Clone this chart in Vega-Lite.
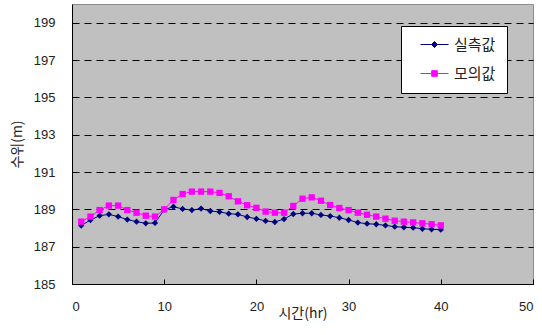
{
  "$schema": "https://vega.github.io/schema/vega-lite/v6.json",
  "width": 461,
  "height": 280,
  "autosize": {"type": "none"},
  "padding": {"left": 72, "top": 4, "right": 9, "bottom": 51},
  "background": "white",
  "config": {
    "view": {"fill": "#C0C0C0", "stroke": "#8c8c8c", "strokeWidth": 1},
    "font": "Liberation Sans",
    "axis": {
      "domainColor": "black",
      "tickColor": "black",
      "labelColor": "#222222",
      "titleColor": "#222222",
      "labelFont": "Liberation Sans",
      "labelFontSize": 13,
      "titleFont": "Noto Sans CJK KR",
      "titleFontSize": 14,
      "titleFontWeight": "normal"
    },
    "legend": {
      "orient": "none",
      "legendX": 329,
      "legendY": 22,
      "fillColor": "white",
      "strokeColor": "black",
      "padding": 11,
      "labelFont": "Noto Sans CJK KR",
      "labelFontSize": 15,
      "labelColor": "#222222",
      "symbolSize": 196,
      "symbolOffset": 15,
      "rowPadding": 13,
      "labelOffset": 12
    }
  },
  "data": {
    "values": [
      {"t": 1, "series": "실측값", "level": 188.13},
      {"t": 2, "series": "실측값", "level": 188.43},
      {"t": 3, "series": "실측값", "level": 188.66},
      {"t": 4, "series": "실측값", "level": 188.73},
      {"t": 5, "series": "실측값", "level": 188.61},
      {"t": 6, "series": "실측값", "level": 188.45},
      {"t": 7, "series": "실측값", "level": 188.34},
      {"t": 8, "series": "실측값", "level": 188.25},
      {"t": 9, "series": "실측값", "level": 188.27},
      {"t": 10, "series": "실측값", "level": 188.98},
      {"t": 11, "series": "실측값", "level": 189.14},
      {"t": 12, "series": "실측값", "level": 189.02},
      {"t": 13, "series": "실측값", "level": 188.96},
      {"t": 14, "series": "실측값", "level": 189.04},
      {"t": 15, "series": "실측값", "level": 188.91},
      {"t": 16, "series": "실측값", "level": 188.86},
      {"t": 17, "series": "실측값", "level": 188.77},
      {"t": 18, "series": "실측값", "level": 188.73},
      {"t": 19, "series": "실측값", "level": 188.59},
      {"t": 20, "series": "실측값", "level": 188.49},
      {"t": 21, "series": "실측값", "level": 188.38},
      {"t": 22, "series": "실측값", "level": 188.32},
      {"t": 23, "series": "실측값", "level": 188.48},
      {"t": 24, "series": "실측값", "level": 188.75},
      {"t": 25, "series": "실측값", "level": 188.79},
      {"t": 26, "series": "실측값", "level": 188.79},
      {"t": 27, "series": "실측값", "level": 188.70},
      {"t": 28, "series": "실측값", "level": 188.64},
      {"t": 29, "series": "실측값", "level": 188.55},
      {"t": 30, "series": "실측값", "level": 188.43},
      {"t": 31, "series": "실측값", "level": 188.29},
      {"t": 32, "series": "실측값", "level": 188.23},
      {"t": 33, "series": "실측값", "level": 188.20},
      {"t": 34, "series": "실측값", "level": 188.14},
      {"t": 35, "series": "실측값", "level": 188.07},
      {"t": 36, "series": "실측값", "level": 188.04},
      {"t": 37, "series": "실측값", "level": 188.02},
      {"t": 38, "series": "실측값", "level": 187.96},
      {"t": 39, "series": "실측값", "level": 187.93},
      {"t": 40, "series": "실측값", "level": 187.91},
      {"t": 1, "series": "모의값", "level": 188.34},
      {"t": 2, "series": "모의값", "level": 188.61},
      {"t": 3, "series": "모의값", "level": 188.96},
      {"t": 4, "series": "모의값", "level": 189.20},
      {"t": 5, "series": "모의값", "level": 189.20},
      {"t": 6, "series": "모의값", "level": 188.96},
      {"t": 7, "series": "모의값", "level": 188.82},
      {"t": 8, "series": "모의값", "level": 188.66},
      {"t": 9, "series": "모의값", "level": 188.61},
      {"t": 10, "series": "모의값", "level": 189.00},
      {"t": 11, "series": "모의값", "level": 189.50},
      {"t": 12, "series": "모의값", "level": 189.82},
      {"t": 13, "series": "모의값", "level": 189.95},
      {"t": 14, "series": "모의값", "level": 189.95},
      {"t": 15, "series": "모의값", "level": 189.95},
      {"t": 16, "series": "모의값", "level": 189.88},
      {"t": 17, "series": "모의값", "level": 189.70},
      {"t": 18, "series": "모의값", "level": 189.43},
      {"t": 19, "series": "모의값", "level": 189.22},
      {"t": 20, "series": "모의값", "level": 189.08},
      {"t": 21, "series": "모의값", "level": 188.88},
      {"t": 22, "series": "모의값", "level": 188.82},
      {"t": 23, "series": "모의값", "level": 188.82},
      {"t": 24, "series": "모의값", "level": 189.18},
      {"t": 25, "series": "모의값", "level": 189.57},
      {"t": 26, "series": "모의값", "level": 189.64},
      {"t": 27, "series": "모의값", "level": 189.46},
      {"t": 28, "series": "모의값", "level": 189.23},
      {"t": 29, "series": "모의값", "level": 189.07},
      {"t": 30, "series": "모의값", "level": 188.96},
      {"t": 31, "series": "모의값", "level": 188.82},
      {"t": 32, "series": "모의값", "level": 188.71},
      {"t": 33, "series": "모의값", "level": 188.61},
      {"t": 34, "series": "모의값", "level": 188.50},
      {"t": 35, "series": "모의값", "level": 188.39},
      {"t": 36, "series": "모의값", "level": 188.34},
      {"t": 37, "series": "모의값", "level": 188.30},
      {"t": 38, "series": "모의값", "level": 188.25},
      {"t": 39, "series": "모의값", "level": 188.20},
      {"t": 40, "series": "모의값", "level": 188.14}
    ]
  },
  "encoding": {
    "x": {
      "field": "t",
      "type": "quantitative",
      "scale": {"domain": [0, 50], "nice": false, "zero": false},
      "axis": {
        "title": "시간(hr)",
        "values": [0, 10, 20, 30, 40, 50],
        "grid": false,
        "tickSize": -5,
        "labelPadding": 21,
        "labelBaseline": "top",
        "titleY": 29,
        "titleBaseline": "middle"
      }
    },
    "y": {
      "field": "level",
      "type": "quantitative",
      "scale": {"domain": [185, 200], "nice": false, "zero": false},
      "axis": {
        "title": "수위(m)",
        "values": [185, 187, 189, 191, 193, 195, 197, 199],
        "grid": true,
        "gridColor": "black",
        "gridDash": [7, 5],
        "gridWidth": 1,
        "gridOpacity": 1,
        "tickSize": -5,
        "labelPadding": 22,
        "titleX": -55,
        "titleBaseline": "middle"
      }
    }
  },
  "layer": [
    {
      "mark": {"type": "line", "strokeWidth": 1},
      "encoding": {
        "color": {
          "field": "series",
          "type": "nominal",
          "scale": {"domain": ["실측값", "모의값"], "range": ["#000080", "#FF00FF"]},
          "legend": {
            "title": null,
            "encode": {
              "symbols": {
                "update": {
                  "shape": {"signal": "datum.value === '실측값' ? 'M-2,0H-0.43M0.43,0H2M0,-0.43L0.43,0L0,0.43L-0.43,0Z' : 'M-2,0H-0.4M0.4,0H2M-0.4,-0.4H0.4V0.4H-0.4Z'"},
                  "fill": {"signal": "datum.value === '실측값' ? '#000080' : '#FF00FF'"},
                  "strokeWidth": {"value": 1}
                }
              }
            }
          }
        }
      }
    },
    {
      "transform": [{"filter": "datum.series === '실측값'"}],
      "mark": {"type": "point", "shape": "diamond", "filled": true, "opacity": 1, "size": 40, "color": "#000080"}
    },
    {
      "transform": [{"filter": "datum.series === '모의값'"}],
      "mark": {"type": "point", "shape": "square", "filled": true, "opacity": 1, "size": 40, "color": "#FF00FF"}
    }
  ]
}
